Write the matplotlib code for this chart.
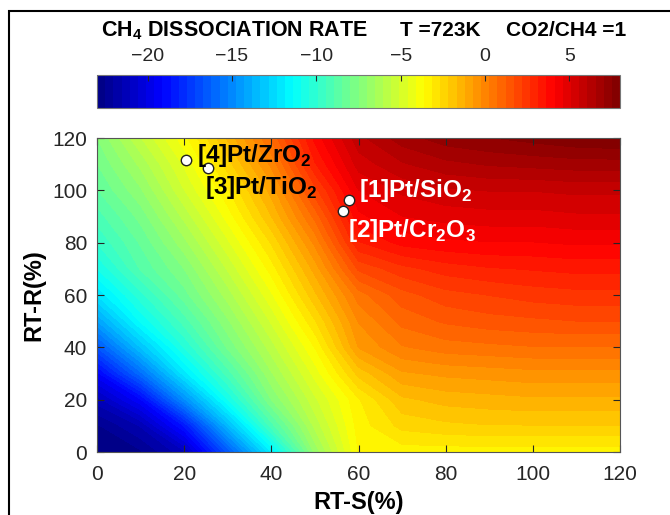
import numpy as np
import matplotlib
matplotlib.use('Agg')
import matplotlib.pyplot as plt
from matplotlib.colors import LinearSegmentedColormap
from matplotlib.patches import Rectangle

plt.rcParams['font.family'] = ['Liberation Sans', 'DejaVu Sans']
plt.rcParams['mathtext.fontset'] = 'custom'
plt.rcParams['mathtext.rm'] = 'Liberation Sans'
plt.rcParams['mathtext.bf'] = 'Liberation Sans:bold'

# grid of the map (RT-S across, RT-R up)
rt_s = [0, 10, 20, 30, 40, 50, 60, 70, 80, 90, 100, 110, 120]
rt_r = [0, 10, 20, 30, 40, 50, 60, 70, 80, 90, 100, 110, 120]
rate_grid = [
    [-23.0, -22.6, -21.2, -16.6, -11.9, -6.9, -3.6, -3.4, -3.4, -3.4, -3.4, -3.4, -3.4],
    [-22.6, -21.5, -18.6, -13.6, -9.2, -5.9, -3.4, -2.5, -2.3, -2.2, -2.2, -2.2, -2.2],
    [-21.3, -19.2, -14.9, -10.9, -7.5, -5.2, -3.2, -1.8, -1.5, -1.4, -1.3, -1.3, -1.3],
    [-19.3, -15.9, -12.1, -9.2, -6.6, -4.4, -2.0, -0.8, -0.6, -0.5, -0.4, -0.4, -0.4],
    [-16.7, -13.3, -10.4, -7.9, -5.8, -3.6, -0.7, 0.2, 0.5, 0.6, 0.7, 0.7, 0.7],
    [-14.3, -11.3, -9.2, -7.1, -5.0, -2.7, -0.2, 0.9, 1.3, 1.5, 1.6, 1.7, 1.7],
    [-12.3, -10.1, -8.2, -6.3, -4.2, -1.8, 0.5, 1.5, 2.0, 2.2, 2.4, 2.5, 2.5],
    [-10.9, -8.9, -7.5, -5.5, -3.4, -1.0, 1.8, 2.5, 2.9, 3.1, 3.2, 3.3, 3.3],
    [-9.9, -8.4, -6.7, -4.7, -2.6, -0.1, 3.1, 3.8, 4.0, 4.1, 4.1, 4.2, 4.2],
    [-9.2, -7.8, -5.9, -3.9, -1.7, 0.9, 4.0, 4.6, 4.8, 4.9, 4.9, 5.0, 5.0],
    [-8.5, -7.1, -5.1, -3.2, -1.0, 2.0, 4.6, 5.2, 5.5, 5.6, 5.6, 5.7, 5.7],
    [-8.0, -6.4, -4.5, -2.4, -0.1, 3.1, 5.3, 6.0, 6.4, 6.6, 6.7, 6.8, 6.8],
    [-7.5, -5.6, -3.8, -1.6, 0.8, 3.8, 5.9, 6.8, 7.3, 7.5, 7.7, 7.9, 8.0],
]

# catalysts
cat_names = ['[1]Pt/SiO$_\\mathbf{2}$', '[2]Pt/Cr$_\\mathbf{2}$O$_\\mathbf{3}$',
             '[3]Pt/TiO$_\\mathbf{2}$', '[4]Pt/ZrO$_\\mathbf{2}$']
cat_s = [57.8, 56.4, 25.5, 20.4]
cat_r = [96.2, 92.0, 108.5, 111.6]

cbar_ticks = [-20, -15, -10, -5, 0, 5]

# matlab style jet
jet_m = LinearSegmentedColormap.from_list('jet_m', [
    (0.0, (0, 0, 0.5)), (0.125, (0, 0, 1)), (0.375, (0, 1, 1)),
    (0.625, (1, 1, 0)), (0.875, (1, 0, 0)), (1.0, (0.5, 0, 0))])

fig = plt.figure(figsize=(6.7, 5.15), dpi=100)
ax = fig.add_axes([0.1448, 0.1223, 0.7806, 0.6097])
cax = fig.add_axes([0.1448, 0.7903, 0.7806, 0.0641])

X, Y = np.meshgrid(rt_s, rt_r)
levels = np.linspace(-23, 8, 65)
cf = ax.contourf(X, Y, np.array(rate_grid), levels=levels, cmap=jet_m)

ax.plot(cat_s, cat_r, 'o', mfc='white', mec='#222222', ms=7.5, mew=1, ls='none', zorder=5)

label_xy = [(60.1, 97.4), (57.6, 82.0), (24.8, 98.5), (22.9, 110.8)]
label_col = ['white', 'white', 'black', 'black']
for name, (lx, ly), c in zip(cat_names, label_xy, label_col):
    ax.text(lx, ly, name, color=c, fontsize=17.5, fontweight='bold',
            ha='left', va='baseline', zorder=6)

ax.set_xlim(0, 120)
ax.set_ylim(0, 120)
ax.set_xticks(range(0, 121, 20))
ax.set_yticks(range(0, 121, 20))
ax.tick_params(direction='in', top=True, right=True, length=5, width=0.8,
               labelsize=15, labelcolor='#262626', color='#262626')
ax.tick_params(axis='x', pad=9)
ax.tick_params(axis='y', pad=7)
for sp in ax.spines.values():
    sp.set_color('#555555')
ax.set_xlabel('RT-S(%)', fontsize=17, fontweight='bold', labelpad=5.5)
ax.set_ylabel('RT-R(%)', fontsize=17, fontweight='bold', labelpad=5)

cb = fig.colorbar(cf, cax=cax, orientation='horizontal', ticks=cbar_ticks)
cax.xaxis.set_ticks_position('top')
cax.xaxis.set_label_position('top')
cax.tick_params(direction='in', length=4, width=0.8, labelsize=14,
                labelcolor='#262626', color='#262626', pad=7)
cb.outline.set_edgecolor('#777777')

fig.text(101 / 670, 1 - 36 / 515, 'CH$_\\mathbf{4}$ DISSOCIATION RATE', fontsize=15.5,
         fontweight='bold', ha='left', va='baseline')
fig.text(400 / 670, 1 - 36 / 515, 'T =723K', fontsize=15, fontweight='bold',
         ha='left', va='baseline')
fig.text(506 / 670, 1 - 36 / 515, 'CO2/CH4 =1', fontsize=15, fontweight='bold',
         ha='left', va='baseline')

# frame around the figure (cut off on right and bottom)
fig.add_artist(Rectangle((9 / 670, -0.1), 1.2, 1.1 - 11 / 515, fill=False,
                         edgecolor='black', linewidth=1.5, transform=fig.transFigure))

fig.savefig('out.png', dpi=100)
